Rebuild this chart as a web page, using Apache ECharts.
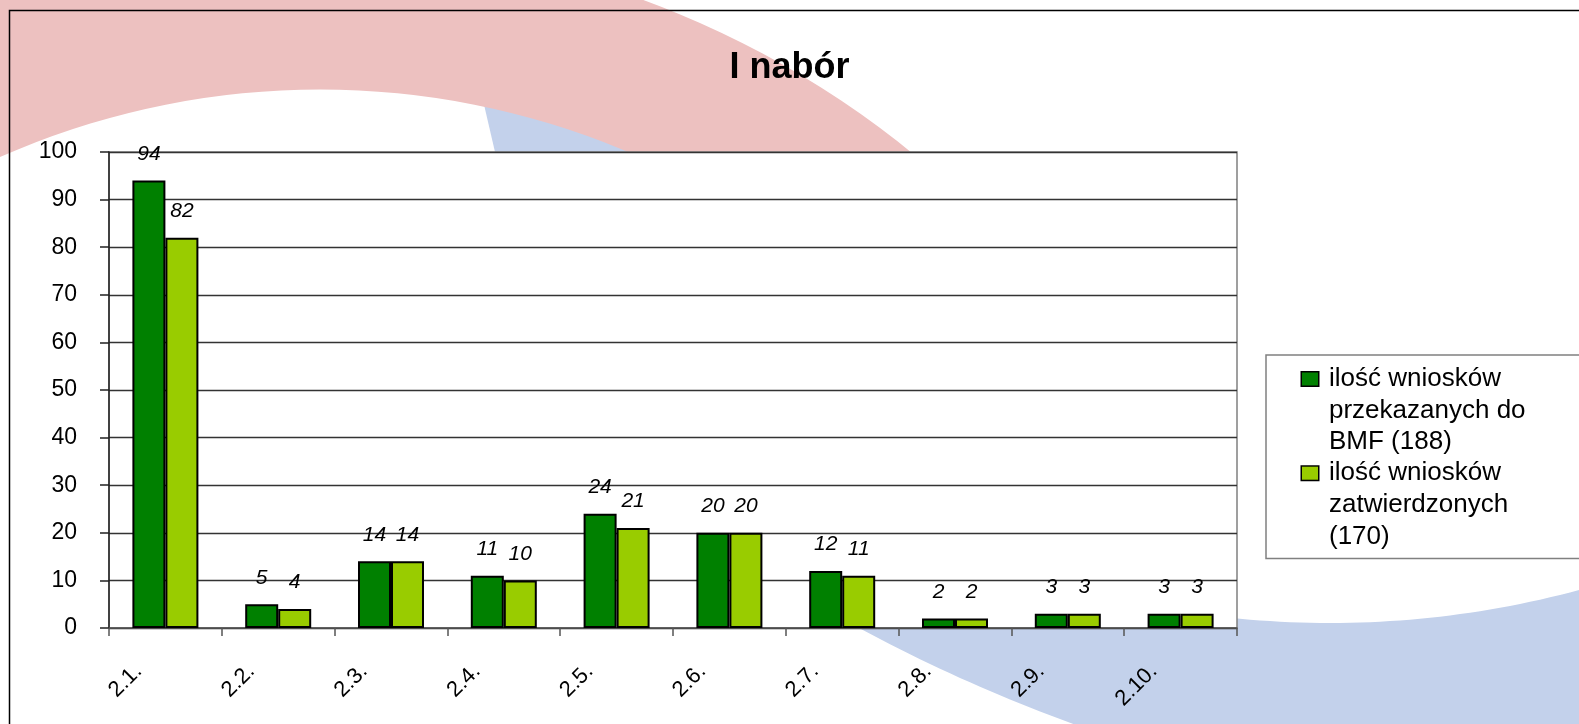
<!DOCTYPE html>
<html>
<head>
<meta charset="utf-8">
<script src="https://cdn.jsdelivr.net/npm/echarts@6/dist/echarts.min.js"></script>
<style>
  html, body { margin: 0; padding: 0; background: #fff; }
  #chart { width: 1579px; height: 724px; }
</style>
</head>
<body>
<div id="chart"></div>
<script>
// values
const categories = ['2.1.', '2.2.', '2.3.', '2.4.', '2.5.', '2.6.', '2.7.', '2.8.', '2.9.', '2.10.'];
const przekazane = [94, 5, 14, 11, 24, 20, 12, 2, 3, 3];
const zatwierdzone = [82, 4, 14, 10, 21, 20, 11, 2, 3, 3];
const seriesNames = ['ilość wniosków przekazanych do BMF (188)', 'ilość wniosków zatwierdzonych (170)'];
const legendLines = [
  ['ilość wniosków', 'przekazanych do', 'BMF (188)'],
  ['ilość wniosków', 'zatwierdzonych', '(170)']
];
const yTicks = { min: 0, max: 100, interval: 10 };

const FONT = 'Liberation Sans';
const DARK = '#008000';
const LIGHT = '#99CC00';
const PINK = '#EDC1C0';
const BLUE = '#C3D1EB';

const chart = echarts.init(document.getElementById('chart'));

// legend text: colored box on the first line, the rest indented
function legendText(name) {
  const idx = seriesNames.indexOf(name);
  const lines = legendLines[idx];
  let out = '{b' + idx + '| }{g| }{t|' + lines[0] + '}';
  for (let i = 1; i < lines.length; i++) {
    out += '\n{s| }{t|' + lines[i] + '}';
  }
  return out;
}

// blue swoosh at the bottom: band between two circles (background only)
function blueBand() {
  const outer = { cx: 1624, cy: -791, r: 1612 };
  const inner = { cx: 1330, cy: -333, r: 956 };
  const pts = [];
  for (let x = 800; x <= 1650; x += 10) {
    pts.push([x, outer.cy + Math.sqrt(outer.r * outer.r - (x - outer.cx) * (x - outer.cx))]);
  }
  for (let x = 1650; x >= 800; x -= 10) {
    pts.push([x, inner.cy + Math.sqrt(inner.r * inner.r - (x - inner.cx) * (x - inner.cx))]);
  }
  return pts;
}

const labelStyle = {
  show: true,
  position: 'top',
  distance: 16,
  fontFamily: FONT,
  fontStyle: 'italic',
  fontSize: 21,
  color: '#000'
};

const option = {
  animation: false,
  backgroundColor: '#fff',
  title: {
    text: 'I nabór',
    left: 'center',
    top: 50,
    padding: 0,
    textStyle: { fontFamily: FONT, fontWeight: 'bold', fontSize: 36, color: '#000' }
  },
  // slide background swooshes + outer frame
  graphic: {
    elements: [
      {
        type: 'polygon', z: -30, silent: true,
        shape: { points: [[482, 96], [700, 96], [700, 152], [495, 152]] },
        style: { fill: BLUE }
      },
      {
        type: 'ring', z: -20, silent: true,
        shape: { cx: 320, cy: 880.5, r: 938, r0: 791 },
        style: { fill: PINK }
      },
      {
        type: 'polygon', z: -10, silent: true,
        shape: { points: blueBand() },
        style: { fill: BLUE }
      },
      {
        type: 'rect', z: -5, silent: true,
        shape: { x: 9.5, y: 10.5, width: 2000, height: 2000 },
        style: { fill: 'none', stroke: '#000', lineWidth: 1.5 }
      }
    ]
  },
  legend: {
    orient: 'vertical',
    left: 1266,
    top: 355,
    padding: [11, 300, 9, 30],
    itemGap: 5,
    itemWidth: 0,
    itemHeight: 0,
    selectedMode: false,
    backgroundColor: '#fff',
    borderColor: '#808080',
    borderWidth: 1.5,
    data: seriesNames,
    formatter: legendText,
    textStyle: {
      fontFamily: FONT,
      fontSize: 26,
      color: '#000',
      rich: {
        t: { fontFamily: FONT, fontSize: 26, lineHeight: 31.6, color: '#000' },
        b0: { width: 16, height: 13, backgroundColor: DARK, borderColor: '#000', borderWidth: 1.5 },
        b1: { width: 16, height: 13, backgroundColor: LIGHT, borderColor: '#000', borderWidth: 1.5 },
        g: { width: 11 },
        s: { width: 27 }
      }
    }
  },
  grid: {
    left: 109,
    right: 342,
    top: 152,
    bottom: 96,
    show: true,
    backgroundColor: '#fff',
    borderColor: '#808080',
    borderWidth: 1.5
  },
  xAxis: {
    type: 'category',
    data: categories,
    axisLine: { lineStyle: { color: '#555', width: 1.5 } },
    axisTick: { show: true, length: 8, interval: 0, lineStyle: { color: '#555', width: 1.5 } },
    axisLabel: {
      interval: 0,
      rotate: 45,
      margin: 13,
      padding: [0, 38, 0, 0],
      fontFamily: FONT,
      fontSize: 22,
      color: '#000'
    },
    splitLine: { show: false }
  },
  yAxis: {
    type: 'value',
    min: yTicks.min,
    max: yTicks.max,
    interval: yTicks.interval,
    axisLine: { show: true, lineStyle: { color: '#222', width: 1.5 } },
    axisTick: { show: true, length: 9, lineStyle: { color: '#222', width: 1.5 } },
    axisLabel: { margin: 32, fontFamily: FONT, fontSize: 23, color: '#000' },
    splitLine: { show: true, lineStyle: { color: '#333', width: 1.4 } }
  },
  series: [
    {
      name: seriesNames[0],
      type: 'bar',
      data: przekazane,
      barWidth: 33,
      barGap: '0%',
      itemStyle: { color: DARK, borderColor: '#000', borderWidth: 2 },
      label: labelStyle
    },
    {
      name: seriesNames[1],
      type: 'bar',
      data: zatwierdzone,
      barWidth: 33,
      barGap: '0%',
      itemStyle: { color: LIGHT, borderColor: '#000', borderWidth: 2 },
      label: labelStyle
    }
  ]
};

chart.setOption(option);
</script>
</body>
</html>
